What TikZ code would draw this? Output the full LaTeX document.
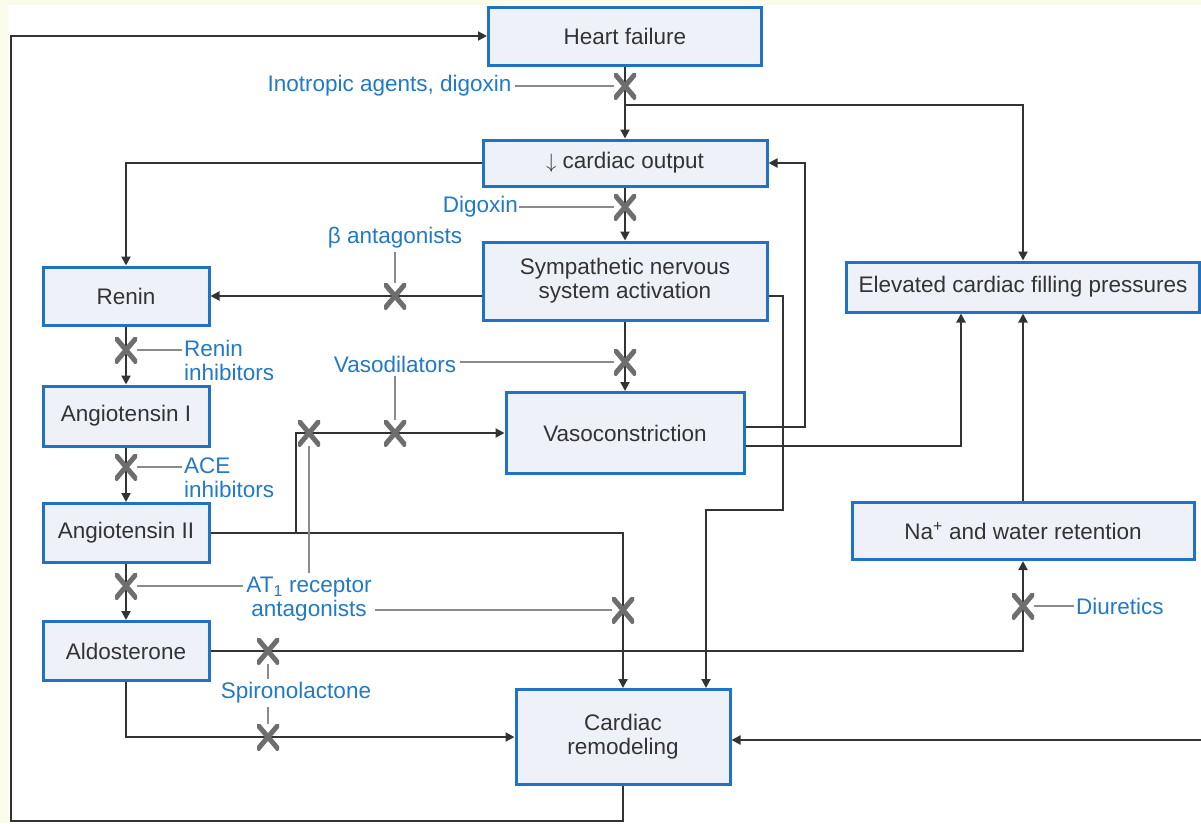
\documentclass[tikz,border=0pt]{standalone}
\usepackage{fontspec}
\setmainfont{Liberation Sans}
\usetikzlibrary{arrows.meta}
\definecolor{boxblue}{HTML}{1F72C4}
\definecolor{boxfill}{HTML}{EEF1F8}
\definecolor{drugblue}{HTML}{2279C6}
\definecolor{crossgray}{HTML}{6E6E6E}
\definecolor{linegray}{HTML}{333333}
\definecolor{cream}{HTML}{FBFBEA}

\begin{document}
\begin{tikzpicture}[x=1pt, y=-1pt,
    font=\fontsize{22.5}{24}\selectfont,
    box/.style={draw=boxblue, line width=3pt, fill=boxfill, text=linegray, align=center, inner sep=0pt},
    drug/.style={text=drugblue, align=left},
    link/.style={linegray, line width=2pt, -{Triangle[length=9pt,width=9pt]}},
    hint/.style={crossgray!80, line width=2pt},
    xmark/.style={minimum width=22pt, minimum height=26pt, inner sep=0pt,
        path picture={\draw[crossgray, line width=5pt]
            (path picture bounding box.north west) -- (path picture bounding box.south east)
            (path picture bounding box.north east) -- (path picture bounding box.south west);}}]

    % Background
    \useasboundingbox (0,0) rectangle (1201,823);
    \fill[cream] (0,0) rectangle (1201,823);
    \fill[white] (8,5) rectangle (1201,823);

    % Boxes
    \node[box, minimum width=273pt, minimum height=58pt] (hf) at (625,36) {Heart failure};
    \node[box, minimum width=284pt, minimum height=46pt] (co) at (625,163) {$\downarrow$ cardiac output};
    \node[box, minimum width=284pt, minimum height=78pt] (sns) at (625,281) {Sympathetic nervous\\system activation};
    \node[box, minimum width=238pt, minimum height=81pt] (vaso) at (625,433) {Vasoconstriction};
    \node[box, minimum width=214pt, minimum height=95pt] (cr) at (623,737) {Cardiac\\remodeling};
    \node[box, minimum width=166pt, minimum height=58pt] (renin) at (126,296) {Renin};
    \node[box, minimum width=166pt, minimum height=60pt] (ang1) at (126,416) {Angiotensin I};
    \node[box, minimum width=166pt, minimum height=59pt] (ang2) at (126,533) {Angiotensin II};
    \node[box, minimum width=166pt, minimum height=59pt] (ald) at (126,651) {Aldosterone};
    \node[box, minimum width=353pt, minimum height=50pt] (efp) at (1023,287) {Elevated cardiac filling pressures};
    \node[box, minimum width=342pt, minimum height=57pt] (na) at (1023,531) {Na\textsuperscript{+} and water retention};

    % Drug labels
    \node[drug, anchor=east] (ino) at (515,86) {Inotropic agents, digoxin};
    \node[drug, anchor=east, inner sep=1pt] (dig) at (519,207) {Digoxin};
    \node[drug] (beta) at (395,238) {β antagonists};
    \node[drug, anchor=west, inner sep=2pt] (rinh) at (182,360) {Renin\\inhibitors};
    \node[drug, anchor=west, inner sep=2pt] (ace) at (182,478) {ACE\\inhibitors};
    \node[drug] (vdil) at (395,364) {Vasodilators};
    \node[drug, align=center] (at1) at (309,599) {AT\textsubscript{1} receptor\\antagonists};
    \node[drug] (spiro) at (296,693) {Spironolactone};
    \node[drug, anchor=west, inner sep=2pt] (diu) at (1074,606) {Diuretics};

    % Connectors
    \coordinate (j1) at (625,105);
    \coordinate (j2) at (296,533);
    \coordinate (s1) at (783,510);
    \coordinate (v1) at (805,163);
    \coordinate (r1) at (1201,740);
    \coordinate (l1) at (11,821);
    \draw[link] (hf) -- (co);
    \draw[link] (j1) -| (efp);
    \draw[link] (co) -| (renin);
    \draw[link] (co) -- (sns);
    \draw[link] (sns.west |- renin) -- (renin);
    \draw[link] (sns) -- (vaso);
    \draw[link] (renin) -- (ang1);
    \draw[link] (ang1) -- (ang2);
    \draw[link] (ang2) -- (ald);
    \draw[link] (ang2) -| (cr);
    \draw[link] (j2) |- (vaso);
    \draw[link] (ald) -| (na);
    \draw[link] (ald) |- (cr);
    \draw[link] (sns.east |- renin) -| (s1) -| ([xshift=83pt]cr.north);
    \draw[link] ([yshift=6pt]vaso.east) -| (v1) -- (co);
    \draw[link] ([yshift=-13pt]vaso.east) -| ([xshift=-62pt]efp.south);
    \draw[link] (na) -- (efp);
    \draw[link] (r1) -- (cr.east |- r1);
    \draw[link] (cr) |- (l1) |- (hf);

    % Blocking marks
    \node[xmark] (x1) at (625,86) {};
    \node[xmark] (x2) at (625,207) {};
    \node[xmark] (x3) at (395,296) {};
    \node[xmark] (x4) at (126,350) {};
    \node[xmark] (x5) at (625,362) {};
    \node[xmark] (x6) at (309,433) {};
    \node[xmark] (x7) at (395,433) {};
    \node[xmark] (x8) at (126,467) {};
    \node[xmark] (x9) at (126,586) {};
    \node[xmark] (x10) at (623,610) {};
    \node[xmark] (x11) at (268,651) {};
    \node[xmark] (x12) at (268,737) {};
    \node[xmark] (x13) at (1023,606) {};

    % Drug to mark lines
    \draw[hint] (ino) -- (x1);
    \draw[hint] (dig) -- (x2);
    \draw[hint] (beta) -- (x3);
    \draw[hint] (x4) -- (x4 -| rinh.west);
    \draw[hint] (vdil.east |- x5) -- (x5);
    \draw[hint] (vdil) -- (x7);
    \draw[hint] (x8) -- (x8 -| ace.west);
    \draw[hint] (x9) -- (x9 -| at1.west);
    \draw[hint] (x6) -- (x6 |- at1.north);
    \draw[hint] (x10 -| at1.east) -- (x10);
    \draw[hint] (x11) -- (x11 |- spiro.north);
    \draw[hint] (spiro.south -| x12) -- (x12);
    \draw[hint] (x13) -- (diu);

\end{tikzpicture}
\end{document}
